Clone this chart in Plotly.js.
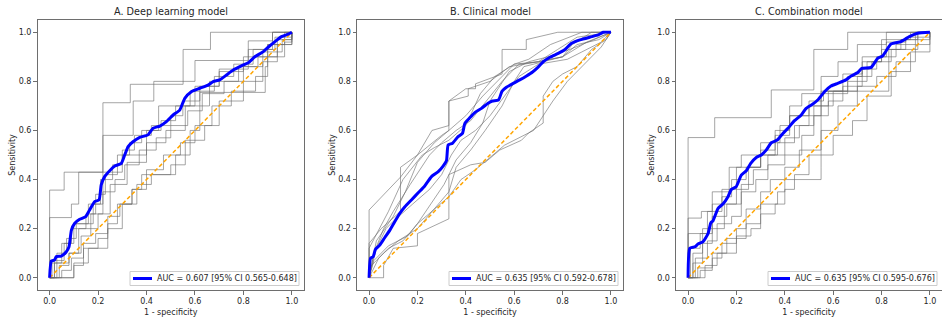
<!DOCTYPE html>
<html>
<head>
<meta charset="utf-8">
<script src="https://cdn.plot.ly/plotly-3.0.1.min.js"></script>
<style>html,body{margin:0;padding:0;background:#fff;}#chart{width:942px;height:320px;}</style>
</head>
<body>
<div id="chart"></div>
<script>
// ---------- Panel titles and legend labels ----------
const panelTitles = ["A. Deep learning model", "B. Clinical model", "C. Combination model"];
const aucLabels = [
  "AUC = 0.607 [95% CI 0.565-0.648]",
  "AUC = 0.635 [95% CI 0.592-0.678]",
  "AUC = 0.635 [95% CI 0.595-0.676]"
];
const tickVals = [0, 0.2, 0.4, 0.6, 0.8, 1.0];
const tickText = ["0.0", "0.2", "0.4", "0.6", "0.8", "1.0"];
const chanceLine = [0, 1];

// ---------- A. Deep learning model: mean ROC ----------
const A_mean_fpr = [0,0.007,0.02,0.028,0.048,0.069,0.08,0.09,0.103,0.124,0.149,0.165,0.186,0.204,0.213,0.227,0.248,0.269,0.296,0.31,0.324,0.344,0.372,0.406,0.427,0.455,0.482,0.51,0.537,0.558,0.585,0.62,0.654,0.675,0.702,0.73,0.758,0.792,0.82,0.847,0.882,0.902,0.93,0.957,0.985,1];
const A_mean_tpr = [0,0.068,0.072,0.086,0.088,0.106,0.126,0.194,0.221,0.238,0.249,0.276,0.31,0.317,0.378,0.412,0.436,0.455,0.466,0.5,0.534,0.554,0.572,0.582,0.609,0.618,0.636,0.663,0.683,0.731,0.758,0.772,0.785,0.799,0.806,0.826,0.846,0.863,0.876,0.9,0.921,0.939,0.962,0.982,0.992,1];
// A: individual (grey) ROC curves, staircase corner points
const A_grey_fpr = [
  [0,0,0.06,0.22,0.333,0.551,0.664,1],
  [0,0,0.09,0.12,0.22,0.345,0.43,0.6,0.82,0.92,1],
  [0,0.02,0.06,0.1,0.18,0.22,0.3,0.4,0.45,0.6,0.7,0.82,0.92,1],
  [0,0.04,0.08,0.12,0.2,0.25,0.32,0.4,0.48,0.56,0.66,0.78,0.86,0.94,1],
  [0,0.1,0.1,0.16,0.24,0.3,0.36,0.42,0.5,0.56,0.64,0.7,0.8,0.88,0.94,1],
  [0,0.03,0.07,0.11,0.16,0.21,0.26,0.3,0.35,0.42,0.5,0.55,0.62,0.7,0.8,0.9,1],
  [0,0.01,0.05,0.09,0.15,0.19,0.23,0.28,0.33,0.38,0.46,0.52,0.58,0.68,0.76,0.84,0.93,1],
  [0,0.02,0.08,0.13,0.17,0.22,0.27,0.31,0.37,0.44,0.5,0.57,0.63,0.72,0.8,0.88,0.96,1],
  [0,0.05,0.09,0.14,0.19,0.24,0.29,0.34,0.4,0.47,0.54,0.6,0.67,0.75,0.85,0.9,0.97,1],
  [0,0.1,0.1,0.14,0.2,0.24,0.28,0.34,0.38,0.52,0.58,0.62,0.89,0.9,0.97,1]
];
const A_grey_tpr = [
  [0,0.357,0.43,0.713,0.788,0.93,1,1],
  [0,0.245,0.3,0.43,0.58,0.72,0.8,0.885,0.965,1,1],
  [0,0.07,0.14,0.22,0.3,0.43,0.5,0.6,0.7,0.78,0.85,0.93,1,1],
  [0,0.05,0.1,0.2,0.26,0.38,0.47,0.55,0.6,0.7,0.8,0.86,0.9,0.97,1],
  [0,0,0.06,0.12,0.2,0.3,0.38,0.42,0.46,0.56,0.62,0.72,0.8,0.88,0.95,1],
  [0,0.1,0.16,0.22,0.3,0.4,0.46,0.52,0.58,0.62,0.66,0.72,0.78,0.84,0.9,0.95,1],
  [0,0.06,0.14,0.2,0.26,0.34,0.42,0.5,0.55,0.6,0.64,0.7,0.76,0.82,0.87,0.93,0.98,1],
  [0,0.06,0.1,0.17,0.26,0.35,0.4,0.46,0.52,0.57,0.62,0.68,0.75,0.8,0.86,0.92,0.97,1],
  [0,0.03,0.08,0.14,0.18,0.25,0.3,0.36,0.44,0.5,0.55,0.62,0.7,0.76,0.82,0.9,0.96,1],
  [0,0,0.05,0.12,0.16,0.22,0.3,0.36,0.42,0.5,0.6,0.755,0.86,0.95,1,1]
];

// ---------- B. Clinical model ----------
const B_mean_fpr = [0,0.006,0.017,0.026,0.044,0.065,0.086,0.106,0.127,0.148,0.175,0.203,0.23,0.258,0.286,0.306,0.32,0.327,0.345,0.368,0.386,0.396,0.414,0.437,0.465,0.492,0.51,0.535,0.55,0.568,0.596,0.623,0.651,0.676,0.699,0.72,0.748,0.782,0.81,0.837,0.872,0.913,0.948,0.968,1];
const B_mean_tpr = [0,0.079,0.086,0.115,0.133,0.164,0.194,0.228,0.262,0.289,0.317,0.346,0.374,0.412,0.432,0.455,0.477,0.541,0.548,0.575,0.588,0.629,0.649,0.673,0.69,0.711,0.72,0.724,0.76,0.776,0.792,0.806,0.822,0.838,0.858,0.88,0.898,0.914,0.93,0.955,0.969,0.98,0.989,1,1];
// B: individual (grey) ROC curves, connected points
const B_grey_fpr = [
  [0,0,0.13,0.2,0.26,0.33,0.33,0.4,0.44,0.44,0.55,0.55,0.65,0.65,0.78,1],
  [0,0,0.05,0.13,0.13,0.2,0.3,0.33,0.33,0.41,0.41,0.5,0.58,0.7,0.78,0.86,1],
  [0,0.02,0.06,0.1,0.17,0.25,0.3,0.36,0.42,0.5,0.55,0.62,0.7,0.8,0.9,1],
  [0,0.01,0.06,0.12,0.2,0.26,0.33,0.36,0.42,0.48,0.55,0.6,0.64,0.72,0.8,0.86,0.95,1],
  [0,0.06,0.06,0.1,0.2,0.2,0.33,0.33,0.42,0.48,0.54,0.63,0.66,0.72,0.72,0.76,0.8,0.86,0.92,0.98,1],
  [0,0,0.08,0.14,0.22,0.27,0.33,0.4,0.46,0.52,0.6,0.7,0.8,0.84,0.92,1],
  [0,0.03,0.1,0.15,0.2,0.27,0.33,0.4,0.47,0.55,0.6,0.66,0.75,0.88,1],
  [0,0.02,0.08,0.16,0.2,0.27,0.31,0.36,0.42,0.47,0.5,0.58,0.66,0.74,0.83,0.93,1],
  [0,0.03,0.07,0.1,0.18,0.25,0.3,0.34,0.38,0.44,0.5,0.56,0.62,0.7,0.82,0.88,0.96,1],
  [0,0.04,0.08,0.14,0.2,0.27,0.33,0.38,0.44,0.5,0.56,0.62,0.68,0.72,0.76,0.82,0.9,0.96,1]
];
const B_grey_tpr = [
  [0,0.276,0.41,0.5,0.6,0.62,0.72,0.77,0.77,0.79,0.83,0.93,0.93,0.97,1,1],
  [0,0.14,0.2,0.27,0.45,0.5,0.58,0.6,0.72,0.74,0.77,0.8,0.86,0.88,0.93,0.98,1],
  [0,0.1,0.2,0.27,0.38,0.5,0.55,0.6,0.64,0.74,0.8,0.87,0.88,0.9,0.96,1],
  [0,0.05,0.1,0.15,0.2,0.27,0.35,0.45,0.52,0.6,0.7,0.8,0.86,0.88,0.9,0.95,0.97,1],
  [0,0,0.05,0.12,0.13,0.18,0.24,0.42,0.46,0.47,0.52,0.56,0.59,0.63,0.74,0.8,0.83,0.86,0.93,0.97,1],
  [0,0.12,0.27,0.4,0.5,0.53,0.56,0.62,0.75,0.82,0.87,0.88,0.9,0.95,1,1],
  [0,0.15,0.25,0.35,0.47,0.55,0.6,0.66,0.74,0.82,0.87,0.89,0.95,1,1],
  [0,0.07,0.13,0.17,0.22,0.32,0.38,0.48,0.55,0.63,0.72,0.84,0.88,0.9,0.93,0.97,1],
  [0,0.12,0.2,0.23,0.3,0.36,0.42,0.5,0.56,0.6,0.66,0.74,0.82,0.87,0.89,0.92,0.96,1],
  [0,0.08,0.12,0.15,0.22,0.28,0.33,0.4,0.44,0.49,0.54,0.57,0.6,0.66,0.72,0.8,0.88,0.94,1]
];

// ---------- C. Combination model ----------
const C_mean_fpr = [0,0.007,0.028,0.041,0.062,0.083,0.094,0.103,0.124,0.144,0.165,0.179,0.199,0.22,0.241,0.259,0.282,0.303,0.323,0.344,0.369,0.392,0.413,0.44,0.468,0.488,0.516,0.536,0.564,0.591,0.619,0.653,0.674,0.702,0.718,0.757,0.784,0.805,0.839,0.88,0.915,0.949,1];
const C_mean_tpr = [0,0.12,0.126,0.137,0.147,0.181,0.224,0.232,0.283,0.3,0.33,0.36,0.371,0.418,0.436,0.466,0.49,0.5,0.52,0.55,0.561,0.588,0.609,0.64,0.663,0.69,0.708,0.724,0.758,0.781,0.792,0.806,0.822,0.836,0.853,0.857,0.894,0.904,0.952,0.962,0.982,0.996,1];
// C: individual (grey) ROC curves, staircase corner points
const C_grey_fpr = [
  [0,0,0.11,0.344,0.52,0.66,1],
  [0,0,0.055,0.1,0.17,0.22,0.3,0.38,0.42,0.47,0.55,0.62,0.7,0.82,1],
  [0,0,0.08,0.14,0.2,0.3,0.36,0.42,0.55,0.66,0.74,0.8,0.92,1],
  [0,0.02,0.06,0.1,0.15,0.2,0.25,0.3,0.37,0.44,0.5,0.58,0.66,0.72,0.8,0.88,0.95,1],
  [0,0.07,0.07,0.12,0.2,0.26,0.3,0.36,0.4,0.44,0.5,0.6,0.68,0.74,0.84,0.92,1],
  [0,0.01,0.05,0.1,0.16,0.22,0.27,0.33,0.4,0.46,0.52,0.6,0.7,0.76,0.84,0.9,1],
  [0,0.03,0.08,0.12,0.18,0.22,0.28,0.33,0.4,0.47,0.52,0.58,0.64,0.72,0.78,0.86,0.94,1],
  [0,0.04,0.1,0.14,0.2,0.24,0.3,0.34,0.4,0.46,0.55,0.62,0.7,0.78,0.86,0.94,1],
  [0,0.05,0.1,0.16,0.24,0.3,0.37,0.4,0.55,0.55,0.83,0.83,0.95,0.95,1],
  [0,0.02,0.06,0.1,0.14,0.18,0.24,0.3,0.36,0.42,0.5,0.56,0.64,0.72,0.82,0.9,1]
];
const C_grey_tpr = [
  [0,0.571,0.652,0.765,0.93,1,1],
  [0,0.243,0.27,0.35,0.45,0.5,0.55,0.62,0.7,0.75,0.82,0.88,0.95,1,1],
  [0,0.18,0.27,0.36,0.45,0.5,0.58,0.66,0.75,0.8,0.88,0.97,1,1],
  [0,0.06,0.14,0.2,0.3,0.36,0.45,0.5,0.55,0.62,0.7,0.76,0.82,0.88,0.93,0.97,1,1],
  [0,0,0.05,0.1,0.17,0.2,0.26,0.3,0.36,0.42,0.5,0.58,0.64,0.74,0.84,0.92,1],
  [0,0.12,0.18,0.25,0.3,0.38,0.44,0.5,0.57,0.62,0.7,0.76,0.82,0.88,0.93,0.97,1],
  [0,0.08,0.15,0.22,0.25,0.35,0.4,0.46,0.5,0.58,0.66,0.72,0.78,0.85,0.9,0.95,1,1],
  [0,0.04,0.08,0.14,0.2,0.28,0.35,0.4,0.45,0.52,0.6,0.7,0.78,0.82,0.88,0.95,1],
  [0,0.03,0.1,0.16,0.22,0.3,0.35,0.4,0.45,0.76,0.76,0.93,0.93,1,1],
  [0,0.1,0.2,0.3,0.33,0.4,0.45,0.52,0.6,0.66,0.72,0.76,0.83,0.9,0.96,0.98,1]
];

// ---------- build ----------
const panels = [
  {mf: A_mean_fpr, mt: A_mean_tpr, gf: A_grey_fpr, gt: A_grey_tpr, shape: 'hv'},
  {mf: B_mean_fpr, mt: B_mean_tpr, gf: B_grey_fpr, gt: B_grey_tpr, shape: 'linear'},
  {mf: C_mean_fpr, mt: C_mean_tpr, gf: C_grey_fpr, gt: C_grey_tpr, shape: 'hv'}
];
const W = 942, H = 320;
const xDomains = [[37.5/W, 304/W], [357/W, 623/W], [676/W, 942/W]];
const yDomain = [1 - 290/H, 1 - 20/H];
const legendLeftPx = [130, 449, 768];   // legend box left edge (px)
const legendBoxW = 169, legendTop = 271.5, legendBottom = 285.5;
const FONT = "DejaVu Sans, Liberation Sans, sans-serif";
const TXT = '#262626';
const SPINE = '#6e6e6e';

const px = v => v / W, py = v => 1 - v / H;

const traces = [];
const layout = {
  width: W, height: H,
  margin: {l: 0, r: 0, t: 0, b: 0},
  paper_bgcolor: '#fff', plot_bgcolor: '#fff',
  font: {family: FONT, size: 8, color: TXT},
  showlegend: false,
  annotations: [], shapes: []
};

panels.forEach((p, i) => {
  const n = i === 0 ? '' : String(i + 1);
  const xa = 'x' + n, ya = 'y' + n;
  p.gf.forEach((fx, k) => {
    traces.push({
      x: fx, y: p.gt[k], xaxis: xa, yaxis: ya, type: 'scatter', mode: 'lines',
      line: {color: 'rgba(105,105,105,0.6)', width: 1, shape: p.shape},
      showlegend: false, hoverinfo: 'skip'
    });
  });
  traces.push({
    x: chanceLine, y: chanceLine, xaxis: xa, yaxis: ya, type: 'scatter', mode: 'lines',
    line: {color: '#FFA500', width: 1.5, dash: '4px,2.5px'}, showlegend: false, hoverinfo: 'skip'
  });
  traces.push({
    x: p.mf, y: p.mt, xaxis: xa, yaxis: ya, type: 'scatter', mode: 'lines',
    line: {color: '#0000FF', width: 3, shape: 'spline', smoothing: 0.5},
    name: aucLabels[i], showlegend: false
  });

  const axCommon = {
    range: [-0.05, 1.05], tickvals: tickVals, ticktext: tickText,
    showgrid: false, zeroline: false, showline: true, mirror: true,
    linecolor: SPINE, linewidth: 1, ticks: 'outside', ticklen: 3.5, tickwidth: 1,
    tickcolor: SPINE, tickfont: {family: FONT, size: 8, color: TXT}, automargin: false,
    fixedrange: true
  };
  layout['xaxis' + n] = Object.assign({}, axCommon, {
    domain: xDomains[i], anchor: ya,
    title: {text: '1 - specificity', font: {family: FONT, size: 8, color: TXT}, standoff: 4}
  });
  layout['yaxis' + n] = Object.assign({}, axCommon, {
    domain: yDomain, anchor: xa,
    title: {text: 'Sensitivity', font: {family: FONT, size: 8, color: TXT}, standoff: 1}
  });

  // legend box (matplotlib-style), drawn in paper coordinates
  const L = legendLeftPx[i];
  layout.shapes.push({
    type: 'rect', xref: 'paper', yref: 'paper', layer: 'above',
    x0: px(L), x1: px(L + legendBoxW), y0: py(legendBottom), y1: py(legendTop),
    line: {color: '#cccccc', width: 1}, fillcolor: 'rgba(255,255,255,0.85)'
  });
  layout.shapes.push({
    type: 'line', xref: 'paper', yref: 'paper', layer: 'above',
    x0: px(L + 3), x1: px(L + 22), y0: py((legendTop + legendBottom) / 2), y1: py((legendTop + legendBottom) / 2),
    line: {color: '#0000FF', width: 3}
  });
  layout.annotations.push({
    text: aucLabels[i], xref: 'paper', yref: 'paper',
    x: px(L + 25), y: py((legendTop + legendBottom) / 2 + 0.3),
    xanchor: 'left', yanchor: 'middle', showarrow: false,
    font: {family: FONT, size: 8, color: TXT}
  });

  layout.annotations.push({
    text: panelTitles[i], xref: 'paper', yref: 'paper',
    x: (xDomains[i][0] + xDomains[i][1]) / 2, y: py(12),
    xanchor: 'center', yanchor: 'middle', showarrow: false,
    font: {family: FONT, size: 9.7, color: TXT}
  });
});

Plotly.newPlot('chart', traces, layout, {displayModeBar: false, staticPlot: true});
</script>
</body>
</html>
